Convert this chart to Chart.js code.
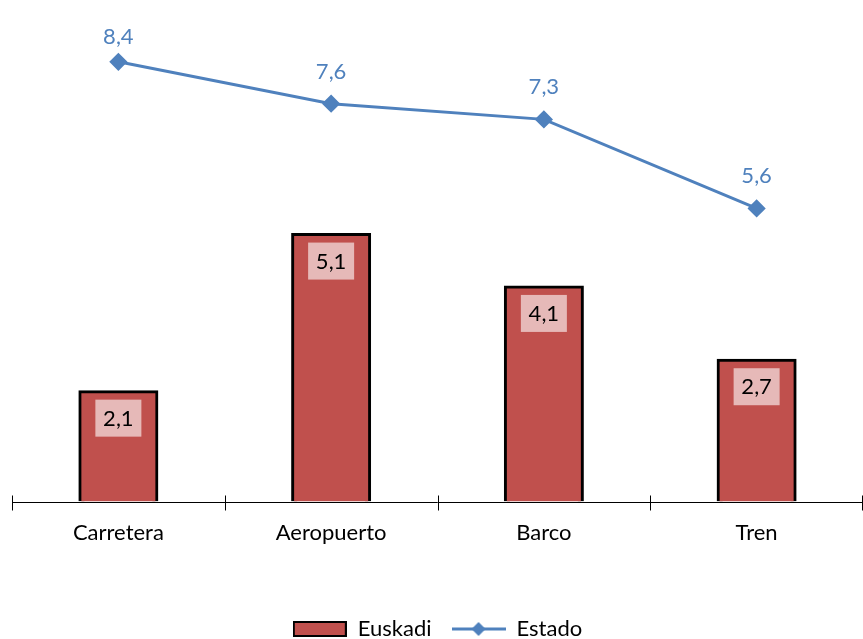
<!DOCTYPE html>
<html>
<head>
<meta charset="utf-8">
<script src="https://cdn.jsdelivr.net/npm/chart.js@4.4.1/dist/chart.umd.min.js"></script>
<style>
  html, body { margin: 0; padding: 0; background: #fff; }
  #wrap { width: 863px; height: 639px; position: relative; }
</style>
</head>
<body>
<div id="wrap"><canvas id="chart"></canvas></div>
<script>
const categories = ['Carretera', 'Aeropuerto', 'Barco', 'Tren'];
const euskadi = [2.1, 5.1, 4.1, 2.7];
const estado = [8.4, 7.6, 7.3, 5.6];

const RED = '#C0504D';
const BLUE = '#4F81BD';
const FONT = 'Lato';
const SIZE = 22;

const fmt = v => v.toFixed(1).replace('.', ',');

// legend swatches: red box, line with a diamond
function swatch(kind) {
  const c = document.createElement('canvas');
  c.width = 54; c.height = 16;
  const g = c.getContext('2d');
  if (kind === 'bar') {
    g.fillStyle = RED;
    g.fillRect(1, 1, 52, 14);
    g.strokeStyle = '#000';
    g.lineWidth = 2;
    g.strokeRect(1, 1, 52, 14);
  } else {
    g.strokeStyle = BLUE;
    g.lineWidth = 3;
    g.beginPath(); g.moveTo(0, 8); g.lineTo(54, 8); g.stroke();
    g.fillStyle = BLUE;
    g.beginPath();
    g.moveTo(27, 1); g.lineTo(34, 8); g.lineTo(27, 15); g.lineTo(20, 8);
    g.closePath(); g.fill();
  }
  return c;
}
const swatches = [swatch('bar'), swatch('line')];

const axisPlugin = {
  id: 'axisLine',
  beforeDatasetsDraw(chart) {
    const { ctx, chartArea } = chart;
    const x = chart.scales.x;
    ctx.save();
    ctx.strokeStyle = '#000';
    ctx.lineWidth = 1;
    const y = Math.round(chartArea.bottom) + 0.5;
    ctx.beginPath();
    ctx.moveTo(chartArea.left, y);
    ctx.lineTo(chartArea.right, y);
    for (let i = 0; i <= categories.length; i++) {
      const px = Math.min(Math.round(x.getPixelForValue(i - 0.5)) + 0.5, chartArea.right - 0.5);
      ctx.moveTo(px, y - 7);
      ctx.lineTo(px, y + 8);
    }
    ctx.stroke();
    ctx.restore();
  }
};

const labelPlugin = {
  id: 'valueLabels',
  afterDatasetsDraw(chart) {
    const ctx = chart.ctx;
    ctx.save();
    ctx.font = SIZE + 'px ' + FONT;
    ctx.textAlign = 'center';
    ctx.textBaseline = 'middle';
    chart.getDatasetMeta(0).data.forEach((bar, i) => {
      ctx.fillStyle = '#E6B9B8';
      ctx.fillRect(bar.x - 23, bar.y + 8, 46, 37);
      ctx.fillStyle = '#000';
      ctx.fillText(fmt(euskadi[i]), bar.x, bar.y + 27);
    });
    // labels above the points, kept inside the plot near the top
    chart.getDatasetMeta(1).data.forEach((pt, i) => {
      ctx.fillStyle = BLUE;
      ctx.fillText(fmt(estado[i]), pt.x, Math.max(pt.y - 32, chart.chartArea.top + 37));
    });
    ctx.restore();
  }
};

new Chart(document.getElementById('chart'), {
  data: {
    labels: categories,
    datasets: [
      {
        type: 'bar',
        label: 'Euskadi',
        data: euskadi,
        backgroundColor: RED,
        borderColor: '#000',
        borderWidth: 3,
        inflateAmount: 1.5,
        categoryPercentage: 1,
        barPercentage: 0.362,
        order: 2
      },
      {
        type: 'line',
        label: 'Estado',
        data: estado,
        borderColor: BLUE,
        backgroundColor: BLUE,
        borderWidth: 3,
        pointStyle: 'rectRot',
        pointRadius: 7,
        pointHoverRadius: 7,
        pointBackgroundColor: BLUE,
        pointBorderColor: BLUE,
        tension: 0,
        clip: false,
        order: 1
      }
    ]
  },
  options: {
    responsive: true,
    maintainAspectRatio: false,
    animation: false,
    layout: { autoPadding: false, padding: { left: 12, right: 0, top: 0, bottom: -11 } },
    plugins: {
      tooltip: { enabled: false },
      legend: {
        position: 'bottom',
        labels: {
          usePointStyle: true,
          pointStyleWidth: 54,
          padding: 20,
          color: '#000',
          font: { family: FONT, size: SIZE },
          sort: (a, b) => a.datasetIndex - b.datasetIndex,
          generateLabels(chart) {
            const items = Chart.defaults.plugins.legend.labels.generateLabels(chart);
            items.forEach(it => { it.pointStyle = swatches[it.datasetIndex]; });
            return items;
          }
        }
      }
    },
    scales: {
      x: {
        grid: { display: false, drawTicks: false },
        border: { display: false },
        ticks: { color: '#000', padding: 18, font: { family: FONT, size: SIZE } },
        afterFit(scale) { scale.height += 34; }
      },
      y: {
        display: false,
        min: 0,
        max: 9.58
      }
    }
  },
  plugins: [axisPlugin, labelPlugin]
});
</script>
</body>
</html>
